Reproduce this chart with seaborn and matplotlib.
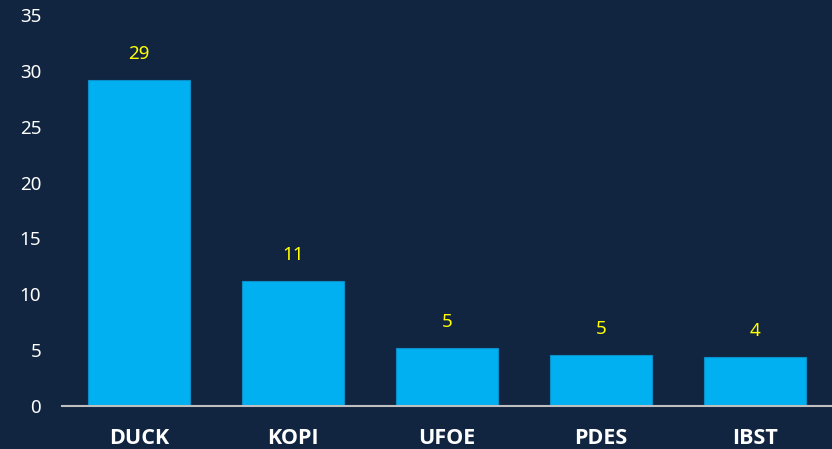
import matplotlib
matplotlib.use("Agg")
import matplotlib.pyplot as plt
import seaborn as sns

# Data
categories = ["DUCK", "KOPI", "UFOE", "PDES", "IBST"]
values = [29.2, 11.2, 5.2, 4.6, 4.4]

bg = "#112541"
bar_color = "#00B0F0"

sns.set_theme(style="white")
plt.rcParams["font.family"] = ["Noto Sans", "DejaVu Sans"]

fig = plt.figure(figsize=(8.32, 4.49), dpi=100, facecolor=bg)
ax = fig.add_axes([62 / 832, 1 - 406 / 449, 1 - 62 / 832, (406 - 15) / 449])
ax.set_facecolor(bg)

sns.barplot(x=categories, y=values, color=bar_color, saturation=1, width=0.66,
            edgecolor="#0A8FC8", linewidth=0.8, ax=ax)

labels = [f"{round(v):d}" for v in values]
ax.bar_label(ax.containers[0], labels=labels, padding=12, color="#FFFF00", fontsize=13.5)

ax.set_ylim(0, 35)
ax.set_yticks(range(0, 36, 5))
ax.tick_params(axis="y", colors="white", labelsize=13.5, length=0, pad=15)
ax.tick_params(axis="x", colors="white", length=0, pad=16)
ax.set_xticks(range(len(categories)))
ax.set_xticklabels(categories, fontweight="bold", fontsize=15.5,
                   family=["Open Sans", "DejaVu Sans"])

for side in ["top", "right", "left"]:
    ax.spines[side].set_visible(False)
ax.spines["bottom"].set_color("#BFBFBF")
ax.spines["bottom"].set_linewidth(1.5)
ax.set_xlabel("")
ax.set_ylabel("")

fig.savefig("out.png", dpi=100, facecolor=bg)
